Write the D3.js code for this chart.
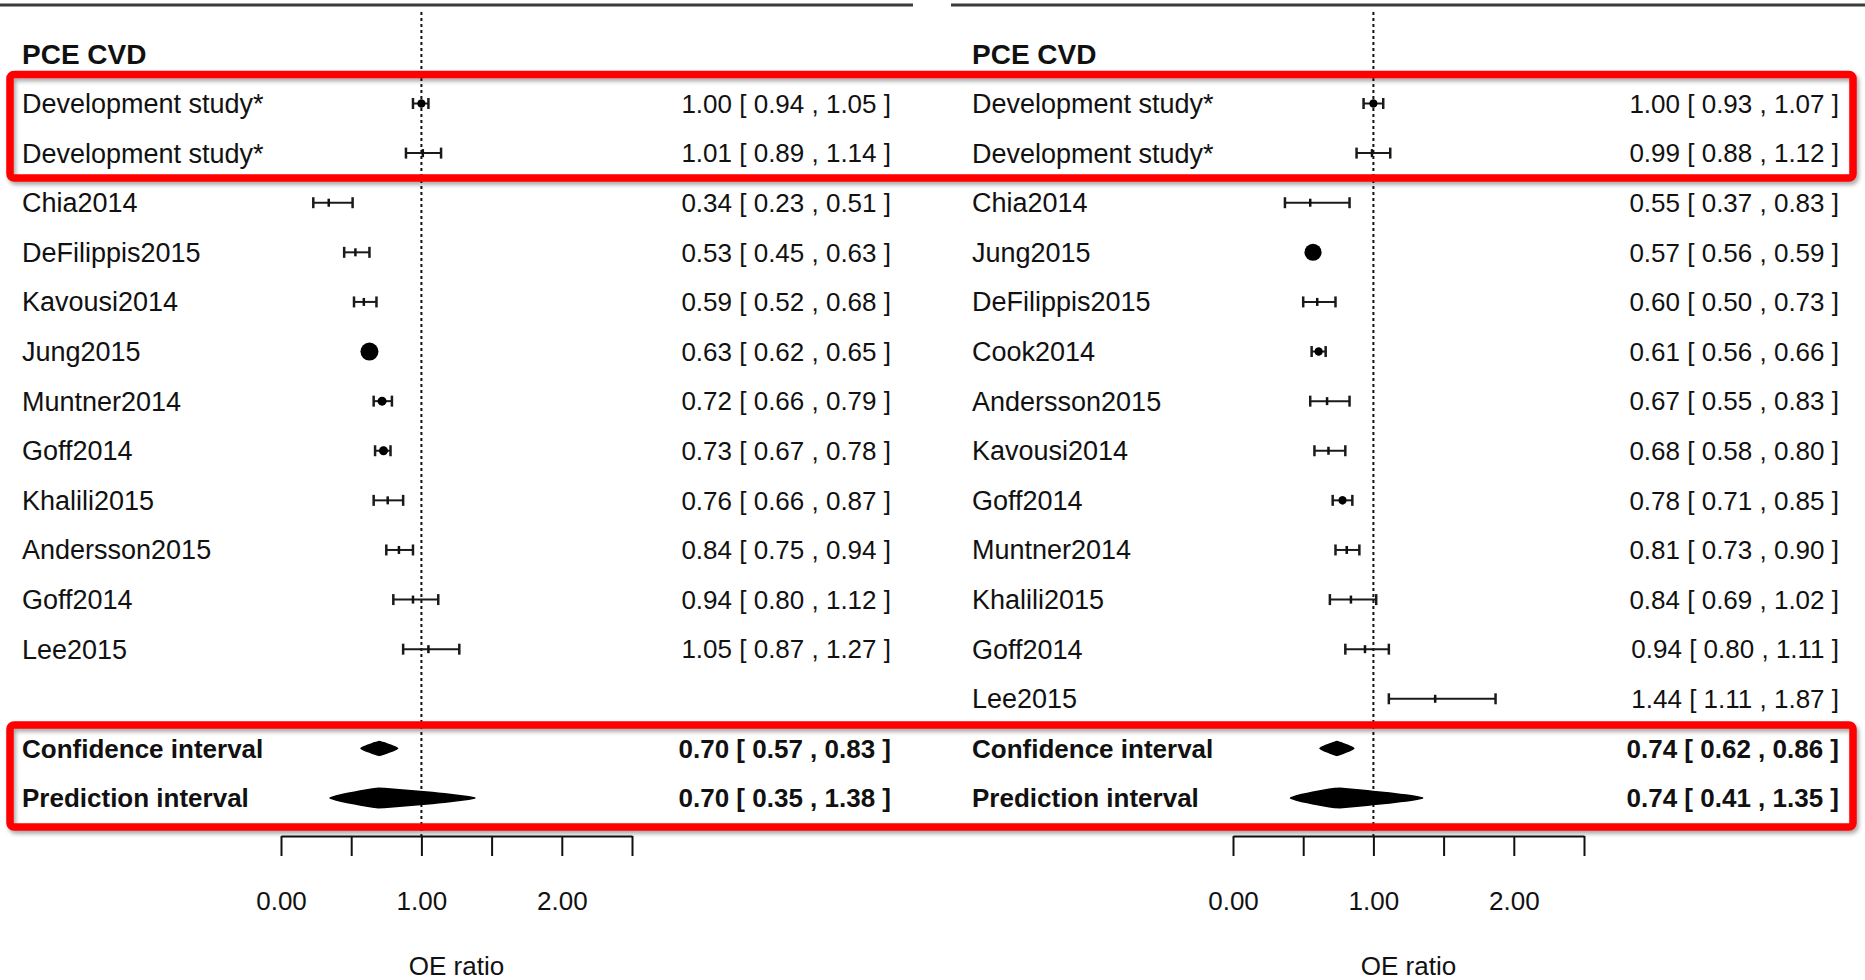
<!DOCTYPE html>
<html>
<head>
<meta charset="utf-8">
<script src="https://cdn.jsdelivr.net/npm/d3@7"></script>
<style>
  html, body { margin: 0; padding: 0; background: #fff; }
  svg { display: block; }
  text { font-family: "Liberation Sans", Arial, sans-serif; fill: #111; }
</style>
</head>
<body>
<svg id="chart" width="1865" height="980"></svg>
<script>
// ---- Data: PCE CVD, observed/expected ratio per study ----
const panelTitle = "PCE CVD";
const axisTitle = "OE ratio";
const tickValues = [0, 0.5, 1, 1.5, 2, 2.5];
const tickLabels = ["0.00", "", "1.00", "", "2.00", ""];

// Left panel
const leftStudies = ["Development study*", "Development study*", "Chia2014", "DeFilippis2015",
  "Kavousi2014", "Jung2015", "Muntner2014", "Goff2014", "Khalili2015", "Andersson2015",
  "Goff2014", "Lee2015"];
const leftEst = [1.00, 1.01, 0.34, 0.53, 0.59, 0.63, 0.72, 0.73, 0.76, 0.84, 0.94, 1.05];
const leftLo  = [0.94, 0.89, 0.23, 0.45, 0.52, 0.62, 0.66, 0.67, 0.66, 0.75, 0.80, 0.87];
const leftHi  = [1.05, 1.14, 0.51, 0.63, 0.68, 0.65, 0.79, 0.78, 0.87, 0.94, 1.12, 1.27];
const leftWeight = [8, 1, 1, 1, 1, 40, 10, 10, 1, 1, 1, 1];
const leftSummaryLabels = ["Confidence interval", "Prediction interval"];
const leftSummaryEst = [0.70, 0.70];
const leftSummaryLo  = [0.57, 0.35];
const leftSummaryHi  = [0.83, 1.38];

// Right panel
const rightStudies = ["Development study*", "Development study*", "Chia2014", "Jung2015",
  "DeFilippis2015", "Cook2014", "Andersson2015", "Kavousi2014", "Goff2014", "Muntner2014",
  "Khalili2015", "Goff2014", "Lee2015"];
const rightEst = [1.00, 0.99, 0.55, 0.57, 0.60, 0.61, 0.67, 0.68, 0.78, 0.81, 0.84, 0.94, 1.44];
const rightLo  = [0.93, 0.88, 0.37, 0.56, 0.50, 0.56, 0.55, 0.58, 0.71, 0.73, 0.69, 0.80, 1.11];
const rightHi  = [1.07, 1.12, 0.83, 0.59, 0.73, 0.66, 0.83, 0.80, 0.85, 0.90, 1.02, 1.11, 1.87];
const rightWeight = [8, 1, 1, 36, 1, 8, 1, 1, 8, 2, 1, 1, 1];
const rightSummaryLabels = ["Confidence interval", "Prediction interval"];
const rightSummaryEst = [0.74, 0.74];
const rightSummaryLo  = [0.62, 0.41];
const rightSummaryHi  = [0.86, 1.35];

// ---- Layout ----
const svg = d3.select("#chart");
const FONT = 26;
const LABEL_FONT = 27;
const y = d3.scaleLinear().domain([0, 14]).range([103.5, 798]);
const axisY = 836;
const rScale = d3.scaleSqrt().domain([0, 40]).range([0, 9]);
const fmt = d3.format(".2f");
const ciText = (e, l, h) => `${fmt(e)} [ ${fmt(l)} , ${fmt(h)} ]`;

const defs = svg.append("defs");
const shadow = defs.append("filter").attr("id", "boxShadow")
  .attr("x", "-5%").attr("y", "-20%").attr("width", "110%").attr("height", "150%");
shadow.append("feDropShadow").attr("dx", 2).attr("dy", 3).attr("stdDeviation", 2)
  .attr("flood-color", "#000").attr("flood-opacity", 0.35);

const panels = [
  { studies: leftStudies, est: leftEst, lo: leftLo, hi: leftHi, weight: leftWeight,
    sLabels: leftSummaryLabels, sEst: leftSummaryEst, sLo: leftSummaryLo, sHi: leftSummaryHi,
    range: [281, 632], labelX: 22, textRight: 891, rule: [0, 913] },
  { studies: rightStudies, est: rightEst, lo: rightLo, hi: rightHi, weight: rightWeight,
    sLabels: rightSummaryLabels, sEst: rightSummaryEst, sLo: rightSummaryLo, sHi: rightSummaryHi,
    range: [1233, 1584], labelX: 972, textRight: 1839, rule: [951, 1865] }
];

// Rounded "diamond" outline for pooled estimates: a lens from lo to hi peaking at est.
function lensPath(x, cy, e, l, h, hh, power) {
  const n = 24;
  const top = [], bottom = [];
  for (let k = 0; k <= n; k++) {
    const t = k / n;                       // 0 at lo, 1 at hi
    const v = l + (h - l) * t;
    const frac = v <= e ? (v - l) / (e - l) : (h - v) / (h - e);
    const half = hh * Math.pow(Math.max(0, frac), power);
    top.push([x(v), cy - half]);
    bottom.push([x(v), cy + half]);
  }
  const pts = top.concat(bottom.reverse());
  return d3.line()(pts) + "Z";
}

panels.forEach(p => {
  const g = svg.append("g");
  const x = d3.scaleLinear().domain([0, 2.5]).range(p.range);

  // top rule
  g.append("line").attr("x1", p.rule[0]).attr("x2", p.rule[1])
    .attr("y1", 5).attr("y2", 5).attr("stroke", "#3a3a3a").attr("stroke-width", 3);

  // reference line at OE = 1
  g.append("line").attr("x1", x(1)).attr("x2", x(1)).attr("y1", 12).attr("y2", axisY)
    .attr("stroke", "#111").attr("stroke-width", 2).attr("stroke-dasharray", "3,3");

  // title
  g.append("text").attr("x", p.labelX).attr("y", 64)
    .style("font-size", "28px").style("font-weight", "bold").text(panelTitle);

  // study rows
  const rows = p.studies.map((s, i) => ({ s, e: p.est[i], l: p.lo[i], h: p.hi[i], w: p.weight[i], i }));
  const row = g.selectAll("g.row").data(rows).join("g").attr("class", "row");

  row.append("text").attr("x", p.labelX).attr("y", d => y(d.i) + 9.5)
    .style("font-size", LABEL_FONT + "px").text(d => d.s);
  row.append("text").attr("x", p.textRight).attr("y", d => y(d.i) + 9.3)
    .attr("text-anchor", "end").style("font-size", FONT + "px")
    .text(d => ciText(d.e, d.l, d.h));

  row.append("line").attr("x1", d => x(d.l)).attr("x2", d => x(d.h))
    .attr("y1", d => y(d.i)).attr("y2", d => y(d.i))
    .attr("stroke", "#1a1a1a").attr("stroke-width", 2);
  ["l", "h"].forEach(k => {
    row.append("line").attr("x1", d => x(d[k])).attr("x2", d => x(d[k]))
      .attr("y1", d => y(d.i) - 5.5).attr("y2", d => y(d.i) + 5.5)
      .attr("stroke", "#1a1a1a").attr("stroke-width", 2.5);
  });
  row.append("line").attr("x1", d => x(d.e)).attr("x2", d => x(d.e))
    .attr("y1", d => y(d.i) - 4).attr("y2", d => y(d.i) + 4)
    .attr("stroke", "#111").attr("stroke-width", 2.5);
  row.filter(d => rScale(d.w) > 3).append("circle")
    .attr("cx", d => x(d.e)).attr("cy", d => y(d.i)).attr("r", d => rScale(d.w))
    .attr("fill", "#000");

  // summary rows (CI and prediction interval)
  const sRows = p.sLabels.map((s, j) => ({ s, e: p.sEst[j], l: p.sLo[j], h: p.sHi[j], i: 13 + j,
    hh: j === 0 ? 7 : 10, pw: j === 0 ? 0.8 : 0.75 }));
  const sRow = g.selectAll("g.srow").data(sRows).join("g").attr("class", "srow");
  sRow.append("text").attr("x", p.labelX).attr("y", d => y(d.i) + 9.3)
    .style("font-size", FONT + "px").style("font-weight", "bold").text(d => d.s);
  sRow.append("text").attr("x", p.textRight).attr("y", d => y(d.i) + 9.3)
    .attr("text-anchor", "end").style("font-size", FONT + "px").style("font-weight", "bold")
    .text(d => ciText(d.e, d.l, d.h));
  sRow.append("path")
    .attr("d", d => lensPath(x, y(d.i), d.e, d.l, d.h, d.hh, d.pw))
    .attr("fill", "#000").attr("stroke", "#000").attr("stroke-width", 1.5)
    .attr("stroke-linejoin", "round");

  // x axis
  const axis = d3.axisBottom(x).tickValues(tickValues).tickSize(20).tickSizeOuter(0)
    .tickPadding(36).tickFormat((d, i) => tickLabels[i]);
  const ag = g.append("g").attr("transform", `translate(0,${axisY})`).call(axis);
  ag.select(".domain").attr("stroke", "#111").attr("stroke-width", 2);
  ag.selectAll(".tick line").attr("stroke", "#111").attr("stroke-width", 2);
  ag.selectAll(".tick text").style("font-size", FONT + "px")
    .style("font-family", "'Liberation Sans', Arial, sans-serif").attr("fill", "#111");

  g.append("text").attr("x", (p.range[0] + p.range[1]) / 2).attr("y", 975)
    .attr("text-anchor", "middle").style("font-size", FONT + "px").text(axisTitle);
});

// highlight boxes around the development rows and the pooled rows
const boxes = [
  { top: y(0) - 29, bottom: y(1) + 25 },
  { top: y(13) - 23.5, bottom: y(14) + 29 }
];
svg.append("g").selectAll("rect").data(boxes).join("rect")
  .attr("x", 10).attr("width", 1843)
  .attr("y", d => d.top).attr("height", d => d.bottom - d.top)
  .attr("rx", 4).attr("fill", "none").attr("stroke", "#ff0000").attr("stroke-width", 7.5)
  .attr("filter", "url(#boxShadow)");
</script>
</body>
</html>
